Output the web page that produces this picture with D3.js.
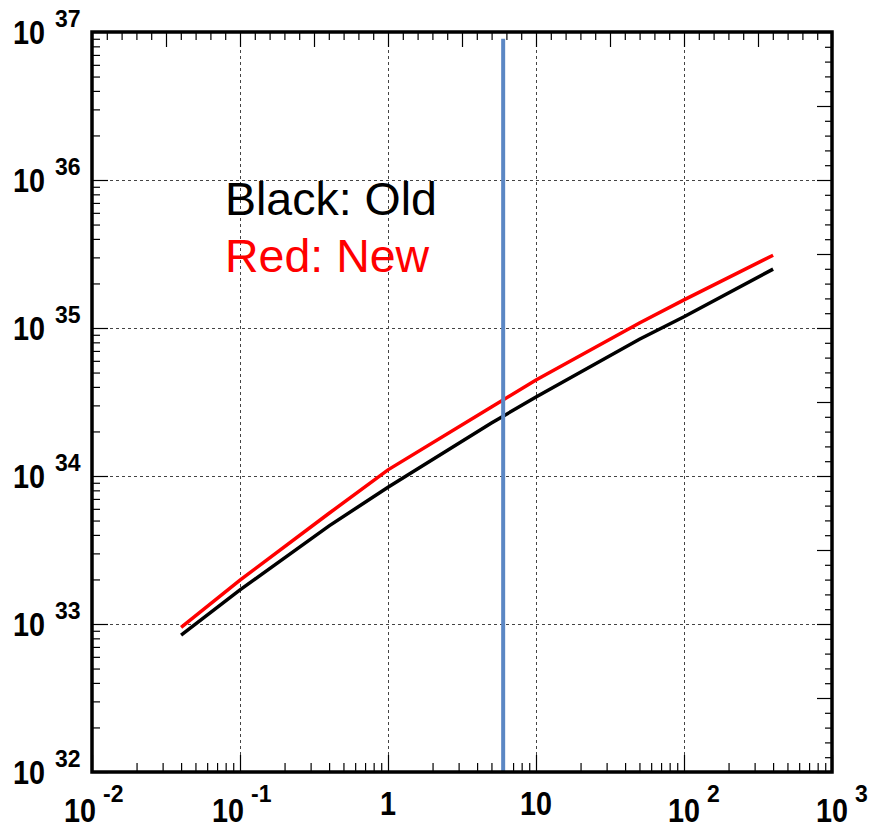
<!DOCTYPE html>
<html>
<head>
<meta charset="utf-8">
<script src="https://cdn.jsdelivr.net/npm/d3@7"></script>
<style>
  html, body { margin: 0; padding: 0; background: #fff; }
  svg { display: block; font-family: "Liberation Sans", Arial, Helvetica, sans-serif; }
</style>
</head>
<body>
<svg id="chart" width="872" height="830"></svg>
<script>
// Curve samples (x, y)
const xSamples = [0.04, 0.1, 0.4, 1, 5, 10, 50, 100, 400];
const oldValues = [8.4e32, 1.7e33, 4.6e33, 8.4e33, 2.28e34, 3.42e34, 8.4e34, 1.19e35, 2.5e35];
const newValues = [9.5e32, 1.98e33, 5.6e33, 1.1e34, 2.93e34, 4.45e34, 1.08e35, 1.55e35, 3.1e35];

// Vertical marker
const markerX = 6;
const markerY = [1e32, 9e36];

// Axis decades
const xDecades = [-2, -1, 0, 1, 2, 3];
const yDecades = [32, 33, 34, 35, 36, 37];
const xTickText = ["10|-2", "10|-1", "1", "10", "10|2", "10|3"];
const yTickText = ["10|32", "10|33", "10|34", "10|35", "10|36", "10|37"];

const legendText = ["Black: Old", "Red: New"];

const svg = d3.select("#chart");
const L = 92, R = 832, T = 32, B = 772;

const x = d3.scaleLog().domain([1e-2, 1e3]).range([L, R]);
const y = d3.scaleLog().domain([1e32, 1e37]).range([B, T]);

// Grid at inner decades
const grid = svg.append("g")
  .attr("stroke", "#444").attr("stroke-width", 1).attr("stroke-dasharray", "3,3");
xDecades.slice(1, -1).forEach(d => {
  const px = Math.round(x(Math.pow(10, d))) + 0.5;
  grid.append("line").attr("x1", px).attr("x2", px).attr("y1", T).attr("y2", B);
});
yDecades.slice(1, -1).forEach(d => {
  const py = Math.round(y(Math.pow(10, d))) + 0.5;
  grid.append("line").attr("x1", L).attr("x2", R).attr("y1", py).attr("y2", py);
});

// Log minor/major tick values
function logTicks(decades) {
  const major = [], minor = [];
  for (let i = 0; i < decades.length; i++) {
    const base = Math.pow(10, decades[i]);
    major.push(base);
    if (i < decades.length - 1) for (let k = 2; k <= 9; k++) minor.push(k * base);
  }
  return { major, minor };
}
// Evenly divided (in log space) tick values for the secondary axes
function evenTicks(decades) {
  const major = [], minor = [];
  for (let i = 0; i < decades.length - 1; i++) {
    for (let k = 0; k < 10; k++) {
      const v = Math.pow(10, decades[i] + k / 10);
      (k === 0 || k === 5 ? major : minor).push(v);
    }
  }
  major.push(Math.pow(10, decades[decades.length - 1]));
  return { major, minor };
}

function drawAxis(axisFn, scale, ticks, transform, minorLen, majorLen) {
  const g1 = svg.append("g").attr("transform", transform)
    .call(axisFn(scale).tickValues(ticks.minor).tickSize(minorLen).tickFormat(""));
  const g2 = svg.append("g").attr("transform", transform)
    .call(axisFn(scale).tickValues(ticks.major).tickSize(majorLen).tickFormat(""));
  [g1, g2].forEach(g => {
    g.select(".domain").remove();
    g.selectAll("line").attr("stroke", "#000").attr("stroke-width", 1.2);
  });
}

const xl = logTicks(xDecades), yl = logTicks(yDecades);
const xe = evenTicks(xDecades), ye = evenTicks(yDecades);
drawAxis(d3.axisTop, x, xl, `translate(0,${B})`, 9, 17);
drawAxis(d3.axisRight, y, yl, `translate(${L},0)`, 8, 16);
drawAxis(d3.axisBottom, x, xe, `translate(0,${T})`, 8, 15);
drawAxis(d3.axisLeft, y, ye, `translate(${R},0)`, 7, 15);

// Curves
const line = d3.line().x(d => x(d[0])).y(d => y(d[1]));
svg.append("path")
  .datum(xSamples.map((v, i) => [v, oldValues[i]]))
  .attr("d", line).attr("fill", "none").attr("stroke", "#000").attr("stroke-width", 3.5);
svg.append("path")
  .datum(xSamples.map((v, i) => [v, newValues[i]]))
  .attr("d", line).attr("fill", "none").attr("stroke", "#ff0000").attr("stroke-width", 3.5);

// Vertical marker
svg.append("line")
  .attr("x1", x(markerX)).attr("x2", x(markerX))
  .attr("y1", y(markerY[1])).attr("y2", y(markerY[0]))
  .attr("stroke", "#5b87c4").attr("stroke-width", 4);

// Frame
svg.append("rect").attr("x", L).attr("y", T).attr("width", R - L).attr("height", B - T)
  .attr("fill", "none").attr("stroke", "#000").attr("stroke-width", 3.5);

// Tick labels: mantissa in large bold type, exponent raised
const labels = svg.append("g").attr("font-weight", "bold").attr("fill", "#000");
function mantissa(xPos, yPos, txt, anchor) {
  const t = labels.append("text").attr("x", xPos).attr("y", yPos)
    .attr("text-anchor", anchor).attr("font-size", 34).text(txt);
  t.attr("textLength", txt.length * 16).attr("lengthAdjust", "spacingAndGlyphs");
  return t;
}
xDecades.forEach((d, i) => {
  const px = x(Math.pow(10, d));
  const parts = xTickText[i].split("|");
  if (parts.length === 1) {
    mantissa(px, 815, parts[0], "middle");
  } else {
    const shift = d < 0 ? -12 : 0;
    mantissa(px + shift, 822, parts[0], "middle");
    labels.append("text").attr("x", px + shift + 23).attr("y", 802)
      .attr("font-size", 23).text(parts[1]);
  }
});
yDecades.forEach((d, i) => {
  const py = y(Math.pow(10, d));
  const parts = yTickText[i].split("|");
  mantissa(45, py + 12, parts[0], "end");
  labels.append("text").attr("x", 55).attr("y", py - 5)
    .attr("font-size", 23).text(parts[1]);
});

// Legend text
svg.append("text").attr("x", 225).attr("y", 215).attr("font-size", 46.5)
  .attr("fill", "#000").text(legendText[0]);
svg.append("text").attr("x", 225).attr("y", 272).attr("font-size", 46.5)
  .attr("fill", "#ff0000").text(legendText[1]);
</script>
</body>
</html>
